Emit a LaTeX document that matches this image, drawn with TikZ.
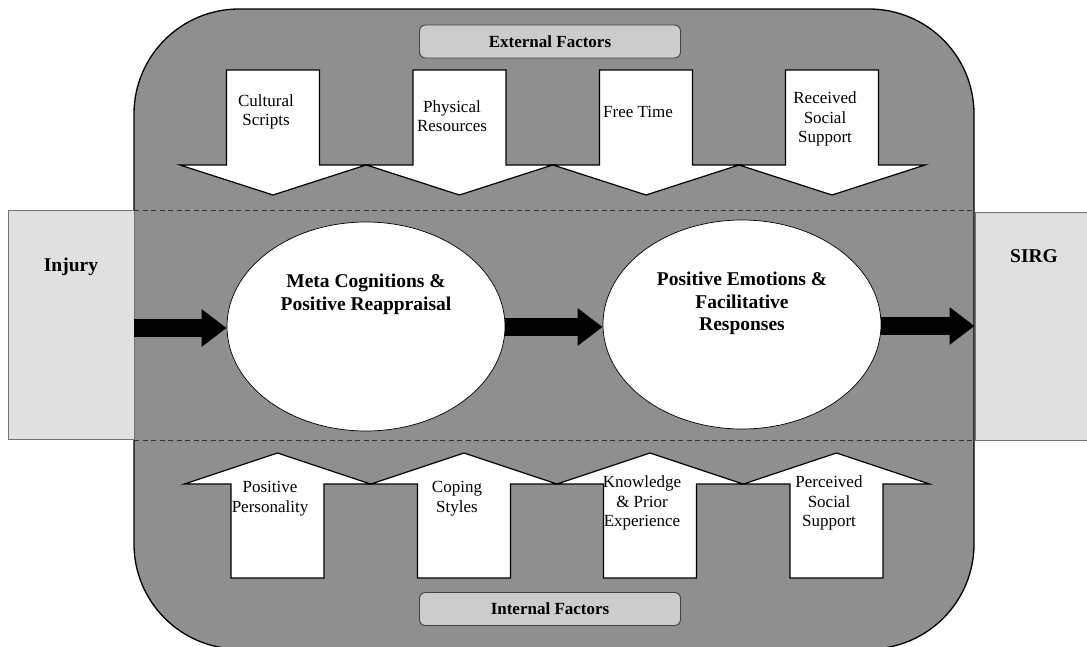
\documentclass[tikz,border=0pt]{standalone}
\usepackage{fontspec}
\setmainfont{Liberation Serif}
\usetikzlibrary{arrows.meta,shapes.geometric}
\definecolor{maing}{RGB}{143,143,143}
\definecolor{sideg}{RGB}{224,224,224}
\definecolor{labg}{RGB}{204,204,204}
\begin{document}
\begin{tikzpicture}[x=1pt,y=-1pt,
  frame/.style={draw=black, line width=1.3pt, fill=maing, rounded corners=105pt, minimum width=840pt, minimum height=640pt, inner sep=0pt},
  sidebox/.style={draw=black!55, line width=0.9pt, fill=sideg, minimum width=126pt, minimum height=229pt, inner sep=0pt},
  labbox/.style={draw=black!75, line width=0.9pt, fill=labg, rounded corners=6pt, minimum width=261pt, minimum height=33pt, inner sep=0pt, font=\bfseries\fontsize{17}{20}\selectfont},
  ell/.style={ellipse, draw=black, line width=0.7pt, fill=white, minimum width=278pt, minimum height=209pt, inner sep=0pt},
  bigtxt/.style={align=center, font=\bfseries\fontsize{19.5}{22.5}\selectfont, inner sep=0pt},
  smalltxt/.style={align=center, font=\fontsize{17}{19.5}\selectfont, inner sep=0pt},
  blockarrow/.style={draw=black, line width=1.2pt, fill=white, line join=miter},
  bigarrow/.style={line width=18pt, black, -{Triangle[length=25pt,width=36pt]}},
  divider/.style={draw=black!80, line width=0.8pt, dash pattern=on 5pt off 3.5pt}
]
\useasboundingbox (0,0) rectangle (1087,646);

% main frame
\node[frame] (frame) at (554,329) {};

% side boxes
\node[sidebox] (injury) at (71,325) {};
\node[sidebox, minimum width=124pt, minimum height=228pt] (sirg) at (1037,326) {};
\node[bigtxt] (injurylbl) at (71,267) {Injury};
\node[bigtxt] (sirglbl) at (1034,256) {SIRG};

% dashed dividers
\coordinate (d1a) at (134,210); \coordinate (d1b) at (975,210);
\coordinate (d2a) at (134,440); \coordinate (d2b) at (975,440);
\draw[divider] (d1a) -- (d1b);
\draw[divider] (d2a) -- (d2b);

% factor labels
\node[labbox] (ext) at (550,41.5) {External Factors};
\node[labbox] (int) at (550,609) {Internal Factors};

% downward block arrows (external factors)
\foreach \c in {273,459.5,646,832}{
  \draw[blockarrow] (\c-46.5,70) -- (\c+46.5,70) -- (\c+46.5,165) -- (\c+93,165) -- (\c,195) -- (\c-93,165) -- (\c-46.5,165) -- cycle;
}
% upward block arrows (internal factors)
\foreach \c in {277.5,464,650,836.5}{
  \draw[blockarrow] (\c-46.5,578) -- (\c+46.5,578) -- (\c+46.5,484) -- (\c+93,484) -- (\c,453) -- (\c-93,484) -- (\c-46.5,484) -- cycle;
}

\node[smalltxt] (f1) at (266,112) {Cultural\\Scripts};
\node[smalltxt] (f2) at (452,116) {Physical\\Resources};
\node[smalltxt] (f3) at (638,112) {Free Time};
\node[smalltxt] (f4) at (825,119) {Received\\Social\\Support};

\node[smalltxt] (g1) at (270,498.5) {Positive\\Personality};
\node[smalltxt] (g2) at (457,498.5) {Coping\\Styles};
\node[smalltxt] (g3) at (642,503) {Knowledge\\\& Prior\\Experience};
\node[smalltxt] (g4) at (829,503) {Perceived\\Social\\Support};

% central ellipses
\node[ell] (e1) at (366,326.5) {};
\node[ell] (e2) at (742,324.5) {};
\node[bigtxt] (e1t) at (366,294.5) {Meta Cognitions \&\\Positive Reappraisal};
\node[bigtxt] (e2t) at (742,303.5) {Positive Emotions \&\\Facilitative\\Responses};

% main flow arrows
\draw[bigarrow] (injury.east |- 0,328) -- (e1.west |- 0,328);
\draw[bigarrow] (e1.east |- 0,327) -- (e2.west |- 0,327);
\draw[bigarrow] (e2.east |- 0,326) -- (sirg.west |- 0,326);
\end{tikzpicture}
\end{document}
